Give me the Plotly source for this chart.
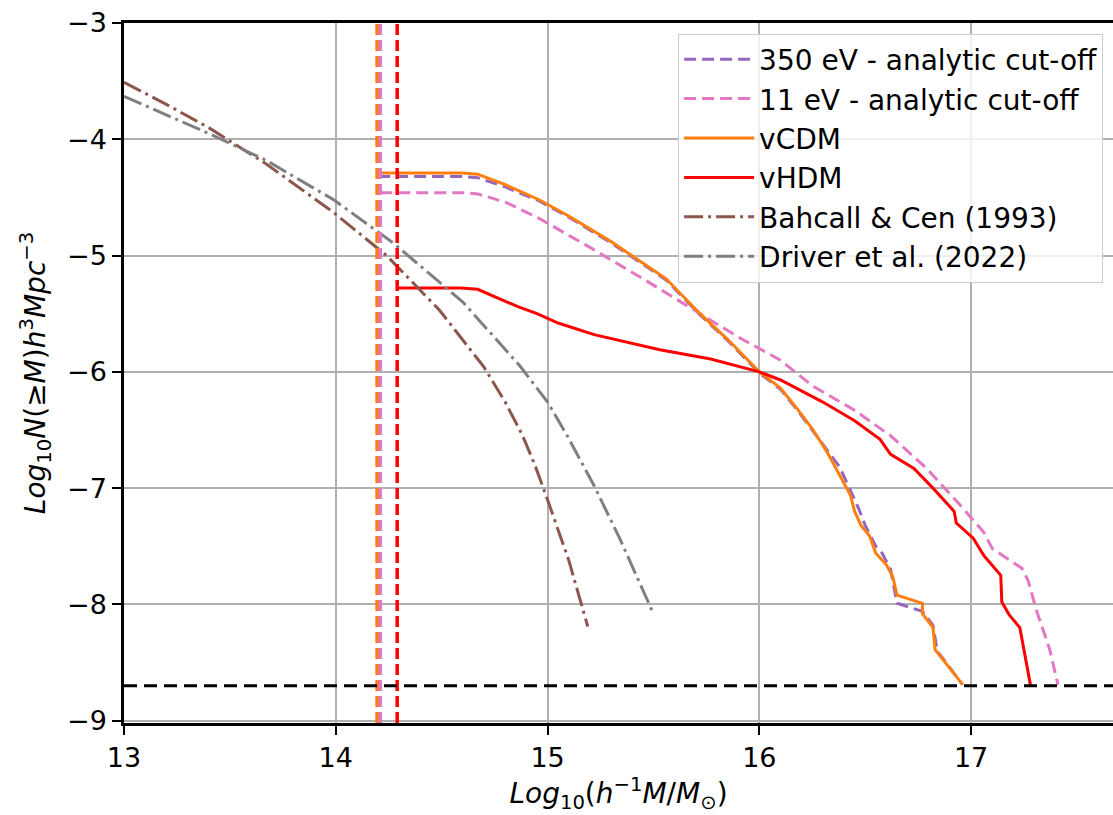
import plotly.graph_objects as go

# ---------------- data ----------------
x_350 = [14.20, 14.40, 14.60, 14.67, 14.80, 14.96, 15.10, 15.30, 15.56, 15.72, 15.85, 16.00,
         16.10, 16.18, 16.25, 16.32, 16.38, 16.43, 16.47, 16.50, 16.55, 16.58, 16.62, 16.65,
         16.77, 16.82, 16.84, 16.96]
y_350 = [-4.32, -4.32, -4.32, -4.33, -4.41, -4.53, -4.67, -4.89, -5.21, -5.51, -5.73, -6.01,
         -6.15, -6.33, -6.50, -6.68, -6.82, -7.02, -7.18, -7.32, -7.50, -7.56, -7.70, -7.99,
         -8.06, -8.18, -8.40, -8.69]

x_11 = [14.21, 14.40, 14.60, 14.67, 14.80, 14.96, 15.20, 15.46, 15.72, 15.90, 16.10, 16.25,
        16.45, 16.62, 16.79, 16.95, 17.06, 17.10, 17.24, 17.27, 17.31, 17.37, 17.41]
y_11 = [-4.46, -4.46, -4.46, -4.47, -4.54, -4.68, -4.93, -5.21, -5.50, -5.70, -5.90, -6.12,
        -6.33, -6.55, -6.83, -7.15, -7.38, -7.52, -7.69, -7.80, -8.06, -8.38, -8.69]

x_vcdm = [14.20, 14.40, 14.60, 14.67, 14.80, 14.96, 15.10, 15.30, 15.56, 15.72, 15.85, 16.00,
          16.10, 16.18, 16.25, 16.32, 16.40, 16.43, 16.45, 16.48, 16.52, 16.55, 16.60, 16.63,
          16.65, 16.77, 16.77, 16.82, 16.83, 16.96]
y_vcdm = [-4.29, -4.29, -4.29, -4.30, -4.39, -4.52, -4.66, -4.88, -5.20, -5.50, -5.72, -6.00,
          -6.14, -6.32, -6.49, -6.69, -6.95, -7.06, -7.20, -7.32, -7.41, -7.56, -7.66, -7.76,
          -7.92, -7.99, -8.08, -8.20, -8.39, -8.69]

x_vhdm = [14.29, 14.45, 14.59, 14.67, 14.72, 14.78, 14.86, 14.95, 15.05, 15.22, 15.53, 15.77,
          16.00, 16.10, 16.30, 16.45, 16.57, 16.62, 16.73, 16.82, 16.92, 16.93, 17.01, 17.06,
          17.14, 17.145, 17.18, 17.23, 17.28]
y_vhdm = [-5.28, -5.28, -5.28, -5.29, -5.33, -5.38, -5.44, -5.50, -5.58, -5.68, -5.81, -5.89,
          -6.00, -6.07, -6.26, -6.42, -6.58, -6.71, -6.83, -7.00, -7.20, -7.30, -7.43, -7.58,
          -7.75, -7.98, -8.09, -8.20, -8.69]

x_bahcall = [13.0, 13.2, 13.4, 13.67, 13.99, 14.24, 14.49, 14.70, 14.80, 14.88, 14.94, 15.00,
             15.10, 15.19]
y_bahcall = [-3.51, -3.70, -3.90, -4.21, -4.63, -5.00, -5.47, -5.96, -6.26, -6.54, -6.80, -7.10,
             -7.62, -8.19]

x_driver = [13.0, 13.4, 13.67, 13.99, 14.27, 14.60, 14.87, 15.00, 15.09, 15.22, 15.34, 15.45, 15.50]
y_driver = [-3.63, -3.95, -4.18, -4.52, -4.89, -5.40, -5.95, -6.26, -6.54, -6.98, -7.43, -7.88, -8.08]

# mass cut-offs (vertical dashed) and number-density limit (horizontal dashed)
cut_350 = 14.20
cut_11 = 14.21
cut_vcdm = 14.195
cut_vhdm = 14.29
n_limit = -8.7

x_ticks = [13, 14, 15, 16, 17]
y_ticks = [-9, -8, -7, -6, -5, -4, -3]

# ---------------- styles ----------------
PURPLE = "#9467bd"
PINK = "#e377c2"
ORANGE = "#ff7f0e"
RED = "#ff0000"
BROWN = "#8c564b"
GRAY = "#7f7f7f"
FONT = "DejaVu Sans"
DASH = "12px,6px"
DASHDOT = "19px,5px,3px,5px"
LW = 3

fig = go.Figure()

series = [
    ("350 eV - analytic cut-off", x_350, y_350, PURPLE, DASH),
    ("11 eV - analytic cut-off", x_11, y_11, PINK, DASH),
    ("vCDM", x_vcdm, y_vcdm, ORANGE, "solid"),
    ("vHDM", x_vhdm, y_vhdm, RED, "solid"),
    ("Bahcall &amp; Cen (1993)", x_bahcall, y_bahcall, BROWN, DASHDOT),
    ("Driver et al. (2022)", x_driver, y_driver, GRAY, DASHDOT),
]
for i, (name, xs, ys, col, dash) in enumerate(series):
    fig.add_trace(go.Scatter(x=xs, y=ys, mode="lines", name=name, legendgroup=f"g{i}",
                             line=dict(color=col, width=LW, dash=dash)))

for xv, col in [(cut_350, PURPLE), (cut_vcdm, ORANGE), (cut_11, PINK), (cut_vhdm, RED)]:
    fig.add_vline(x=xv, line=dict(color=col, width=3.5, dash="11px,5px"), layer="above")

fig.add_hline(y=n_limit, line=dict(color="black", width=3, dash="13px,7px"), layer="above")

fig.update_layout(
    width=1113, height=815,
    margin=dict(l=124, r=0, t=23, b=92, autoexpand=False),
    paper_bgcolor="white", plot_bgcolor="white",
    font=dict(family=FONT, size=27, color="black"),
    showlegend=True,
    legend=dict(x=0.99, y=0.985, xanchor="right", yanchor="top",
                bgcolor="rgba(255,255,255,0.8)", bordercolor="#cccccc", borderwidth=1,
                font=dict(family=FONT, size=28, color="black"), itemwidth=70,
                tracegroupgap=0),
)
fig.update_xaxes(
    range=[13, 17.67], tickvals=x_ticks, ticktext=[str(v) for v in x_ticks],
    showgrid=True, gridcolor="#b0b0b0", gridwidth=1.5,
    showline=True, linecolor="black", linewidth=2.5, mirror=True,
    ticks="outside", ticklen=9, tickwidth=2, tickcolor="black",
    tickfont=dict(family=FONT, size=27), automargin=False,
    title=dict(text="<i>Log</i><sub>10</sub>(<i>h</i><sup>−1</sup><i>M</i>/<i>M</i><sub>⊙</sub>)",
               font=dict(family=FONT, size=28), standoff=4),
    zeroline=False,
)
fig.update_yaxes(
    range=[-9.02, -3], tickvals=y_ticks, ticktext=["−" + str(abs(v)) for v in y_ticks],
    showgrid=True, gridcolor="#b0b0b0", gridwidth=1.5,
    showline=True, linecolor="black", linewidth=2.5,
    ticks="outside", ticklen=9, tickwidth=2, tickcolor="black",
    tickfont=dict(family=FONT, size=27), automargin=False,
    title=dict(text="<i>Log</i><sub>10</sub><i>N</i>(≥<i>M</i>)<i>h</i><sup>3</sup><i>Mpc</i><sup>−3</sup>",
               font=dict(family=FONT, size=28), standoff=14),
    zeroline=False,
)

fig.write_html("out.html", config={"displayModeBar": False},
               post_script="document.body.style.margin='0';document.body.style.overflow='hidden';")
